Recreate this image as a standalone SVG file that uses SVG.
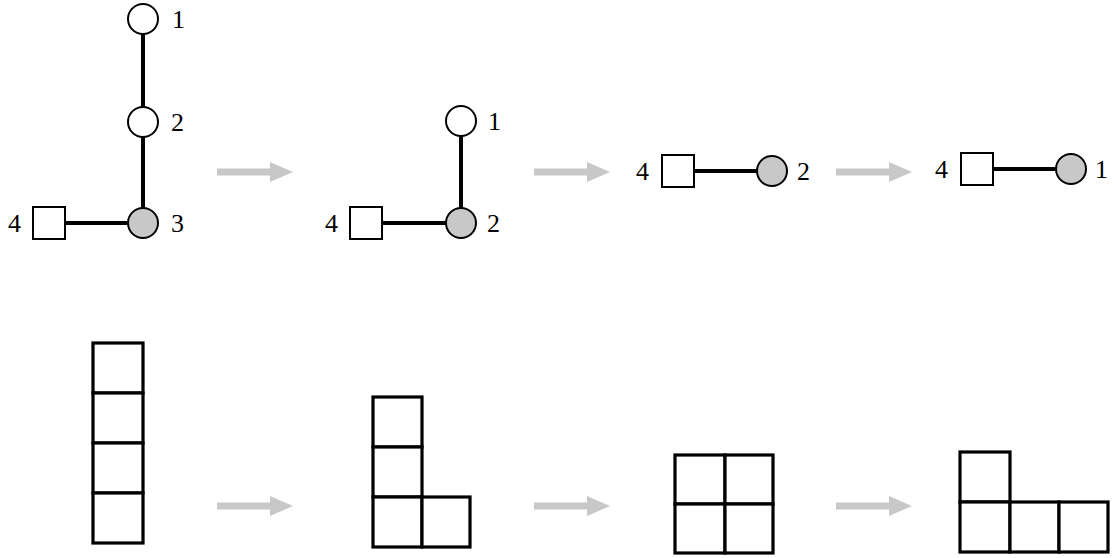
<svg xmlns="http://www.w3.org/2000/svg" width="1115" height="558" viewBox="0 0 1115 558">
<defs>
<style>
.n{fill:#fff;stroke:#000;stroke-width:2}
.g{fill:#c8c8c8;stroke:#000;stroke-width:2}
.e{stroke:#000;stroke-width:4;fill:none}
.c{fill:#fff;stroke:#000;stroke-width:3.2}
.l{font-family:"Liberation Serif","DejaVu Serif",serif;font-size:26px;fill:#000}
.a{fill:#c8c8c8}
</style>
<path id="arr" d="M0,-3.5 L53,-3.5 L53,-10 L76,0 L53,10 L53,3.5 L0,3.5 Z"/>
</defs>
<rect width="1115" height="558" fill="#fff"/>
<g id="connectors">
<line class="e" x1="143" y1="19" x2="143" y2="223"/>
<line class="e" x1="65" y1="223" x2="143" y2="223"/>
<line class="e" x1="461" y1="121" x2="461" y2="223"/>
<line class="e" x1="382" y1="223" x2="461" y2="223"/>
<line class="e" x1="694" y1="171" x2="772" y2="171"/>
<line class="e" x1="993" y1="169" x2="1071" y2="169"/>
</g>
<g id="arrows" class="a">
<use href="#arr" x="217" y="172"/>
<use href="#arr" x="534" y="172"/>
<use href="#arr" x="836" y="172"/>
<use href="#arr" x="217" y="506"/>
<use href="#arr" x="534" y="506"/>
<use href="#arr" x="836" y="506"/>
</g>
<g id="g1">
<g id="g1n1"><circle class="n" cx="143" cy="19" r="15"/><text class="l" x="172" y="28">1</text></g>
<g id="g1n2"><circle class="n" cx="143" cy="122" r="15"/><text class="l" x="171" y="131">2</text></g>
<g id="g1n3"><circle class="g" cx="143" cy="223" r="15"/><text class="l" x="171" y="232">3</text></g>
<g id="g1n4"><rect class="n" x="33" y="207" width="32" height="32"/><text class="l" x="21" y="232" text-anchor="end">4</text></g>
</g>
<g id="g2">
<g id="g2n1"><circle class="n" cx="461" cy="121" r="15"/><text class="l" x="488" y="130">1</text></g>
<g id="g2n2"><circle class="g" cx="461" cy="223" r="15"/><text class="l" x="487" y="232">2</text></g>
<g id="g2n4"><rect class="n" x="350" y="207" width="32" height="32"/><text class="l" x="338" y="232" text-anchor="end">4</text></g>
</g>
<g id="g3">
<g id="g3n2"><circle class="g" cx="772" cy="171" r="15"/><text class="l" x="797" y="180">2</text></g>
<g id="g3n4"><rect class="n" x="662" y="155" width="32" height="32"/><text class="l" x="649" y="180" text-anchor="end">4</text></g>
</g>
<g id="g4">
<g id="g4n1"><circle class="g" cx="1071" cy="169" r="15"/><text class="l" x="1095" y="178">1</text></g>
<g id="g4n4"><rect class="n" x="961" y="153" width="32" height="32"/><text class="l" x="948" y="178" text-anchor="end">4</text></g>
</g>
<g id="p1">
<rect class="c" x="93" y="343" width="50" height="50"/>
<rect class="c" x="93" y="393" width="50" height="50"/>
<rect class="c" x="93" y="443" width="50" height="50"/>
<rect class="c" x="93" y="493" width="50" height="50"/>
</g>
<g id="p2">
<rect class="c" x="373" y="397" width="49" height="50"/>
<rect class="c" x="373" y="447" width="49" height="50"/>
<rect class="c" x="373" y="497" width="49" height="50"/>
<rect class="c" x="422" y="497" width="48" height="50"/>
</g>
<g id="p3">
<rect class="c" x="675" y="455" width="50" height="49"/>
<rect class="c" x="725" y="455" width="48" height="49"/>
<rect class="c" x="675" y="504" width="50" height="49"/>
<rect class="c" x="725" y="504" width="48" height="49"/>
</g>
<g id="p4">
<rect class="c" x="960" y="452" width="50" height="50"/>
<rect class="c" x="960" y="502" width="50" height="50"/>
<rect class="c" x="1010" y="502" width="49" height="50"/>
<rect class="c" x="1059" y="502" width="49" height="50"/>
</g>
</svg>
